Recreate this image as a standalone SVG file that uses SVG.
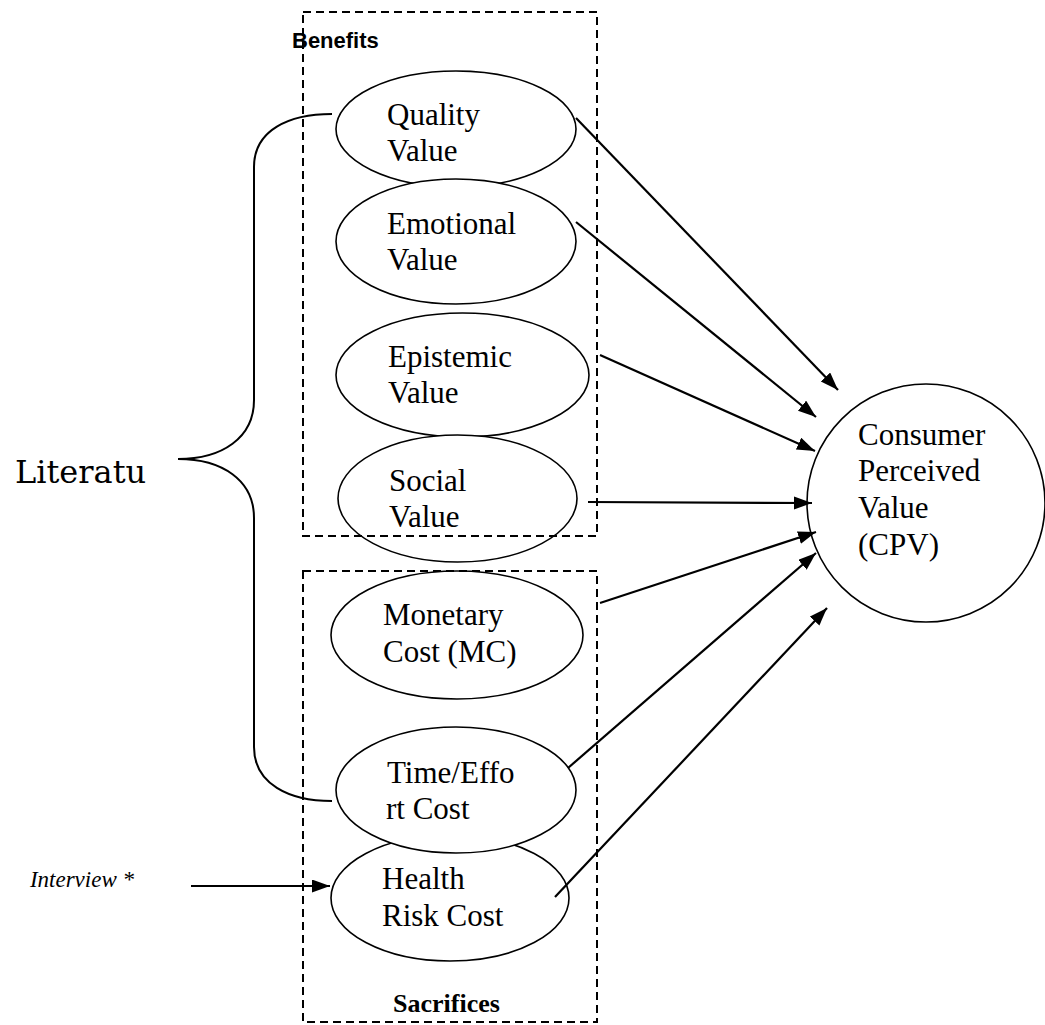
<svg xmlns="http://www.w3.org/2000/svg" width="1045" height="1025" viewBox="0 0 1045 1025">
<defs>
<marker id="arr" markerUnits="userSpaceOnUse" markerWidth="20" markerHeight="16" refX="18" refY="6.5" orient="auto">
<path d="M0,0 L18,6.5 L0,13 z" fill="#000"/>
</marker>
<style>
.node ellipse, .node circle { fill:#fff; stroke:#000; stroke-width:1.6; }
.lbl { font-family:"Liberation Serif","Times New Roman",serif; font-size:31px; fill:#000; }
.box { fill:none; stroke:#000; stroke-width:2; stroke-dasharray:8 5; }
.conn line { stroke:#000; stroke-width:2.2; marker-end:url(#arr); }
.brace { fill:none; stroke:#000; stroke-width:2; }
</style>
</defs>
<rect width="1045" height="1025" fill="#fff"/>

<g id="brace-literature">
<path class="brace" d="M332,114 C289,114 254,130 254,167 L254,400 C254,438 222,459 178,459 C222,459 254,480 254,518 L254,747 C254,784 289,801 332,801"/>
<text x="15" y="483" style="font-family:'DejaVu Serif',serif;font-size:32px">Literatu</text>
</g>

<g id="quality" class="node">
<ellipse cx="456" cy="129" rx="120" ry="58"/>
<text class="lbl" x="387" y="125">Quality</text>
<text class="lbl" x="387" y="161">Value</text>
</g>
<g id="emotional" class="node">
<ellipse cx="456" cy="241.5" rx="120" ry="62.5"/>
<text class="lbl" x="387" y="234">Emotional</text>
<text class="lbl" x="387" y="270">Value</text>
</g>
<g id="epistemic" class="node">
<ellipse cx="462.5" cy="375" rx="126.5" ry="62"/>
<text class="lbl" x="388" y="367">Epistemic</text>
<text class="lbl" x="388" y="403">Value</text>
</g>
<g id="social" class="node">
<ellipse cx="457.5" cy="498.5" rx="119.5" ry="63.5"/>
<text class="lbl" x="389" y="491">Social</text>
<text class="lbl" x="389" y="527">Value</text>
</g>
<g id="monetary" class="node">
<ellipse cx="457" cy="635" rx="126" ry="64"/>
<text class="lbl" x="383" y="625">Monetary</text>
<text class="lbl" x="383" y="662">Cost (MC)</text>
</g>
<g id="health" class="node">
<ellipse cx="450" cy="898" rx="119" ry="63"/>
<text class="lbl" x="382" y="889">Health</text>
<text class="lbl" x="382" y="926">Risk Cost</text>
</g>
<g id="time" class="node">
<ellipse cx="456" cy="790" rx="120" ry="63"/>
<text class="lbl" x="387" y="783">Time/Effo</text>
<text class="lbl" x="386" y="819">rt Cost</text>
</g>
<g id="cpv" class="node">
<circle cx="926" cy="503" r="119"/>
<text class="lbl" x="858" y="445">Consumer</text>
<text class="lbl" x="858" y="481">Perceived</text>
<text class="lbl" x="858" y="518">Value</text>
<text class="lbl" x="858" y="555">(CPV)</text>
</g>

<g id="benefits-group">
<rect class="box" x="303" y="12" width="294" height="524"/>
<text x="292" y="48" style="font-family:'Liberation Sans',Arial,sans-serif;font-weight:bold;font-size:22px">Benefits</text>
</g>
<g id="sacrifices-group">
<rect class="box" x="303" y="571" width="294" height="451"/>
<text x="393" y="1012" style="font-family:'Liberation Serif','Times New Roman',serif;font-weight:bold;font-size:26px">Sacrifices</text>
</g>

<g id="interview">
<text x="134" y="887" text-anchor="end" style="font-family:'Liberation Serif','Times New Roman',serif;font-style:italic;font-size:23px">Interview *</text>
</g>

<g id="connectors" class="conn">
<line x1="576" y1="118" x2="838" y2="390"/>
<line x1="576" y1="222" x2="816" y2="417"/>
<line x1="600" y1="355" x2="815" y2="451"/>
<line x1="588" y1="502" x2="812" y2="503"/>
<line x1="600" y1="603" x2="816" y2="532"/>
<line x1="568" y1="768" x2="816" y2="553"/>
<line x1="555" y1="897" x2="827" y2="608"/>
<line x1="191" y1="886" x2="330" y2="886"/>
</g>
</svg>
